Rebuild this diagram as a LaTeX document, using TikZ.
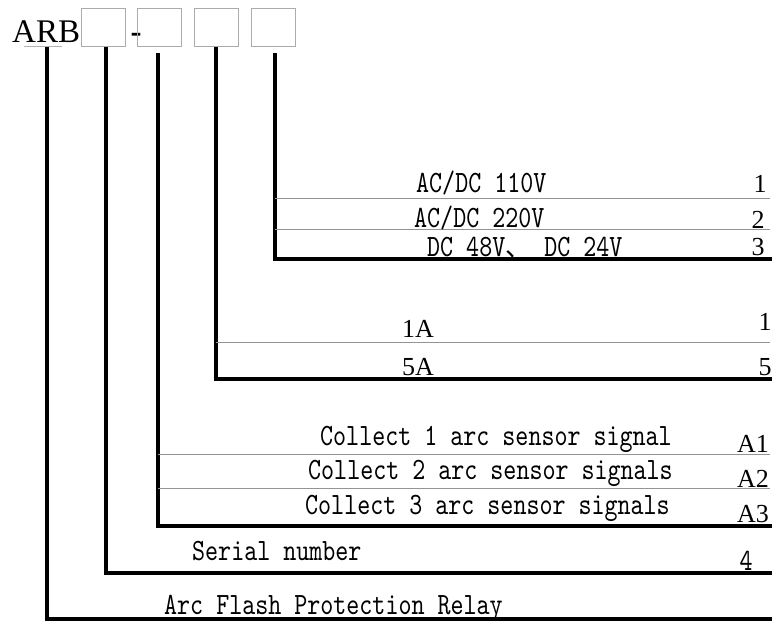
\documentclass[tikz,border=0pt]{standalone}
\usepackage{fontspec}
\setmainfont{Liberation Serif}
\newfontfamily\mono{lmmono10-regular.otf}[FakeStretch=0.8]
\newfontfamily\cjk{Noto Sans CJK SC}
\tikzset{
  mtext/.style={anchor=base west, inner sep=0pt, font=\mono\fontsize{31}{33}\selectfont},
  stext/.style={anchor=base west, inner sep=0pt, font=\fontsize{26}{28}\selectfont},
  snum/.style={anchor=base, inner sep=0pt, font=\fontsize{26}{28}\selectfont},
  codebox/.style={draw=black!33, line width=0.9pt, minimum width=44pt, minimum height=38pt, inner sep=0pt},
  lead/.style={line width=3.6pt, line join=miter},
  sep/.style={draw=black!42, line width=1pt},
}
\begin{document}
\begin{tikzpicture}[x=1pt,y=-1pt]
\useasboundingbox (0,0) rectangle (775,621);
% header
\node[anchor=base west, inner sep=0pt, font=\fontsize{33}{35}\selectfont] (arb) at (12,42) {ARB};
\coordinate (u1) at (24,46); \coordinate (u2) at (62,46);
\draw[sep, draw=black!30] (u1) -- (u2);
\node[codebox] (b1) at (103,27) {};
\node[anchor=base, inner sep=0pt, font=\bfseries\fontsize{33}{35}\selectfont] (dash) at (136,42) {-};
\node[codebox] (b2) at (159.5,27) {};
\node[codebox] (b3) at (216,27) {};
\node[codebox] (b4) at (273,27) {};
% leads
\coordinate (t1) at (47,47);  \coordinate (c1) at (47,619);  \coordinate (e1) at (772,619);
\coordinate (t2) at (106,47); \coordinate (c2) at (106,573); \coordinate (e2) at (772,573);
\coordinate (t3) at (158,53); \coordinate (c3) at (158,526); \coordinate (e3) at (772,526);
\coordinate (t4) at (216,47); \coordinate (c4) at (216,379); \coordinate (e4) at (772,379);
\coordinate (t5) at (275,53); \coordinate (c5) at (275,259); \coordinate (e5) at (772,259);
\draw[lead] (t1) -- (c1) -- (e1);
\draw[lead] (t2) -- (c2) -- (e2);
\draw[lead] (t3) -- (c3) -- (e3);
\draw[lead] (t4) -- (c4) -- (e4);
\draw[lead] (t5) -- (c5) -- (e5);
% separators
\coordinate (s1a) at (275,198); \coordinate (s1b) at (770,198);
\coordinate (s2a) at (275,229); \coordinate (s2b) at (770,229);
\coordinate (s3a) at (216,342); \coordinate (s3b) at (770,342);
\coordinate (s4a) at (158,454); \coordinate (s4b) at (770,454);
\coordinate (s5a) at (158,488); \coordinate (s5b) at (770,488);
\draw[sep] (s1a) -- (s1b);
\draw[sep] (s2a) -- (s2b);
\draw[sep] (s3a) -- (s3b);
\draw[sep] (s4a) -- (s4b);
\draw[sep] (s5a) -- (s5b);
% section 1: supply voltage
\node[mtext] (v1) at (416,192) {AC/DC 110V};
\node[mtext] (v2) at (414,227) {AC/DC 220V};
\node[mtext] (v3) at (427,256) {DC 48V{\cjk\fontsize{26}{28}\selectfont 、} DC 24V};
\node[snum] (n1) at (760,192) {1};
\node[snum] (n2) at (758,228) {2};
\node[snum] (n3) at (758,255) {3};
% section 2: rated current
\node[stext] (i1) at (402,337) {1A};
\node[stext] (i2) at (402,375) {5A};
\node[snum] (m1) at (765,330) {1};
\node[snum] (m5) at (765,375) {5};
% section 3: sensors
\node[mtext] (a1) at (320,445) {Collect 1 arc sensor signal};
\node[mtext] (a2) at (308,479) {Collect 2 arc sensor signals};
\node[mtext] (a3) at (305,514) {Collect 3 arc sensor signals};
\node[stext] (k1) at (737,452) {A1};
\node[stext] (k2) at (737,487) {A2};
\node[stext] (k3) at (737,522) {A3};
% serial and product
\node[mtext] (sn) at (192,560) {Serial number};
\node[mtext, anchor=base] (s4) at (746,570) {4};
\node[mtext] (pr) at (164,614) {Arc Flash Protection Relay};
\end{tikzpicture}
\end{document}
